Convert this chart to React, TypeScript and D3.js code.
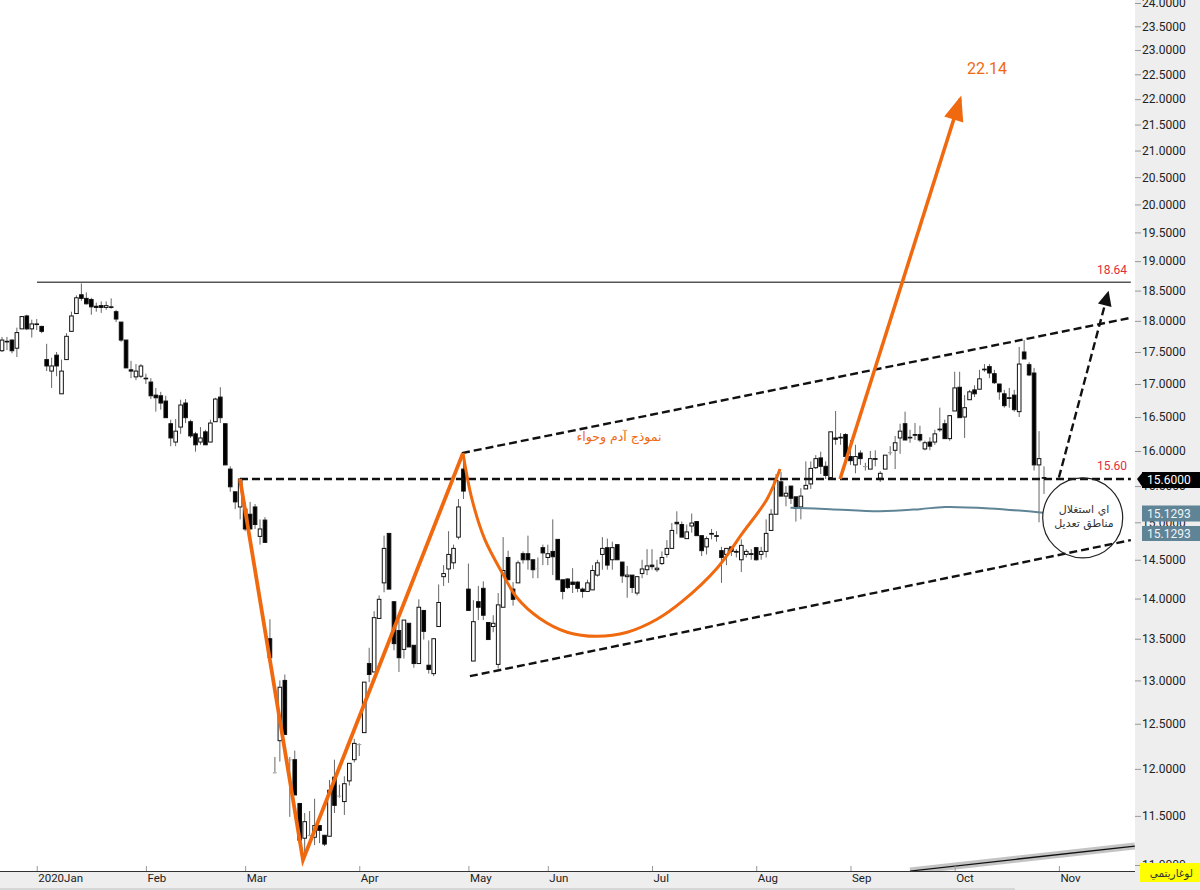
import * as d3 from "d3";
import { useEffect, useRef } from "react";

type Bar = [number, number, number, number]; // open, high, low, close
type Pt = [number, number]; // bar index, price

const dec19: Bar[] = [
  [17.52,17.74,17.50,17.69],[17.67,17.74,17.53,17.66],[17.69,17.70,17.48,17.52],[17.56,17.89,17.42,17.81],
  [17.87,18.07,17.87,18.07],[18.08,18.10,17.85,17.87],[17.87,18.02,17.73,17.95],
];
const jan: Bar[] = [
  [17.95,18.03,17.85,17.94],[17.91,17.92,17.80,17.83],[17.38,17.63,17.20,17.28],[17.20,17.41,16.94,17.28],
  [17.45,17.50,17.12,17.28],[16.85,17.38,16.85,17.20],[17.38,17.80,17.38,17.75],[17.83,18.15,17.83,18.08],
  [18.12,18.42,18.12,18.38],[18.43,18.62,18.33,18.37],[18.37,18.47,18.27,18.28],[18.35,18.38,18.10,18.23],
  [18.24,18.30,18.15,18.22],[18.25,18.32,18.13,18.22],[18.22,18.32,18.18,18.25],[18.23,18.37,18.20,18.22],
  [18.15,18.18,17.98,18.03],[17.98,17.98,17.66,17.69],[17.69,17.69,17.25,17.25],[17.22,17.36,17.09,17.20],
  [17.11,17.31,17.06,17.20],[17.12,17.31,17.09,17.28],
];
const feb: Bar[] = [
  [17.09,17.16,17.00,17.08],[17.03,17.09,16.77,16.82],[16.83,16.94,16.58,16.79],[16.82,16.88,16.61,16.71],
  [16.74,16.82,16.49,16.49],[16.40,16.46,16.07,16.19],[16.13,16.47,16.07,16.29],[16.35,16.76,16.25,16.68],
  [16.71,16.77,16.41,16.49],[16.43,16.46,16.19,16.22],[16.25,16.28,15.99,16.09],[16.13,16.35,16.09,16.19],
  [16.28,16.31,16.09,16.09],[16.13,16.46,16.13,16.41],[16.43,16.79,16.43,16.77],[16.80,16.95,16.41,16.49],
  [16.40,16.40,15.80,15.80],[15.74,15.78,15.42,15.49],[15.42,15.42,15.18,15.28],[15.21,15.60,15.04,15.60],
];
const mar: Bar[] = [
  [15.18,15.28,14.88,14.91],[15.11,15.28,14.91,14.91],[15.21,15.25,14.91,14.97],[14.81,15.04,14.70,14.91],
  [15.03,15.07,14.73,14.73],[13.50,13.74,13.27,13.27],[11.96,12.13,11.96,11.96],[12.31,13.00,12.08,12.92],
  [13.00,13.07,12.38,12.38],[12.10,12.13,11.49,12.10],[12.10,12.20,11.72,11.72],[11.63,11.63,11.25,11.25],
  [11.27,11.53,11.10,11.44],[11.30,11.55,11.29,11.30],[11.28,11.68,11.20,11.40],[11.40,11.40,11.22,11.35],
  [11.30,11.30,11.19,11.21],[11.29,11.88,11.29,11.77],[11.91,12.10,11.53,11.61],[11.71,11.83,11.69,11.71],
  [11.65,11.92,11.51,11.84],[11.87,12.06,11.82,12.06],[12.10,12.33,12.07,12.28],
];
const apr: Bar[] = [
  [12.27,12.28,12.14,12.27],[12.40,12.98,12.40,12.98],[13.20,13.39,12.98,13.07],[13.10,13.84,13.10,13.76],
  [13.75,14.04,13.75,13.99],[14.20,14.82,14.08,14.65],[14.85,14.85,14.12,14.12],[13.96,13.96,13.36,13.44],
  [13.60,13.73,13.10,13.27],[13.37,13.73,13.26,13.73],[13.69,13.69,13.40,13.40],[13.42,13.42,13.15,13.20],
  [13.20,13.99,13.20,13.89],[13.85,13.85,13.49,13.59],[13.18,13.48,13.08,13.13],[13.08,13.50,13.05,13.50],
  [13.65,14.18,13.65,13.95],[14.28,14.43,14.16,14.32],[14.38,14.88,14.20,14.57],[14.46,14.70,14.38,14.65],
  [14.80,15.32,14.77,15.21],[15.74,15.97,15.32,15.43],
];
const may: Bar[] = [
  [14.12,14.45,13.85,13.85],[13.23,13.98,13.23,13.71],[13.96,14.16,13.73,13.89],[14.13,14.22,13.73,13.79],
  [13.70,13.70,13.49,13.49],[13.65,13.79,13.58,13.69],[13.19,14.07,13.14,13.92],[13.89,14.80,13.89,14.36],
  [14.53,14.62,14.24,14.24],[14.12,14.21,13.91,13.99],[14.20,14.49,14.20,14.46],[14.58,14.61,14.45,14.50],
  [14.58,14.82,14.37,14.50],[14.50,14.50,14.26,14.37],[14.39,14.53,14.26,14.39],[14.66,14.70,14.43,14.59],
];
const jun: Bar[] = [
  [14.53,14.70,14.43,14.58],[14.61,15.04,14.30,14.54],[14.77,14.77,14.24,14.24],[14.24,14.24,13.99,14.09],
  [14.25,14.26,14.12,14.14],[14.21,14.39,14.07,14.18],[14.21,14.22,14.08,14.13],[14.12,14.14,14.01,14.09],
  [14.09,14.24,14.09,14.20],[14.11,14.43,14.11,14.36],[14.30,14.50,14.28,14.46],[14.57,14.80,14.37,14.65],
  [14.66,14.78,14.37,14.43],[14.50,14.74,14.37,14.66],[14.70,14.70,14.50,14.50],[14.47,14.47,14.20,14.29],
  [14.28,14.42,14.01,14.30],[14.30,14.30,14.07,14.14],[14.07,14.28,14.04,14.28],[14.32,14.50,14.26,14.38],
  [14.37,14.64,14.30,14.42],
];
const jul: Bar[] = [
  [14.43,14.64,14.37,14.41],[14.37,14.50,14.34,14.39],[14.45,14.61,14.43,14.53],[14.57,14.76,14.53,14.65],
  [14.65,14.99,14.65,14.89],[15.00,15.15,14.84,14.98],[14.97,15.01,14.80,14.80],[14.78,14.97,14.78,14.87],
  [14.95,15.12,14.86,14.99],[15.01,15.01,14.82,14.82],[14.82,14.82,14.55,14.62],[14.67,14.81,14.57,14.78],
  [14.85,14.91,14.77,14.84],[14.82,14.88,14.74,14.81],[14.62,14.67,14.20,14.53],[14.57,14.65,14.43,14.65],
  [14.67,14.67,14.55,14.61],[14.61,14.64,14.53,14.60],[14.50,14.77,14.34,14.69],[14.57,14.64,14.53,14.61],
  [14.58,14.64,14.50,14.57],
];
const aug: Bar[] = [
  [14.66,14.67,14.49,14.50],[14.57,14.67,14.50,14.61],[14.61,15.04,14.53,14.85],[14.89,15.18,14.89,15.11],
  [15.11,15.67,15.11,15.58],[15.56,15.70,15.36,15.36],[15.36,15.50,15.22,15.40],[15.50,15.50,15.25,15.33],
  [15.35,15.35,15.01,15.19],[15.21,15.47,15.04,15.36],[15.46,15.85,15.46,15.51],[15.53,15.85,15.46,15.75],
  [15.76,15.94,15.74,15.89],[15.90,15.99,15.67,15.78],[15.78,15.85,15.60,15.65],[15.62,16.28,15.62,16.28],
  [16.19,16.59,16.09,16.17],[16.20,16.26,16.09,16.19],[16.24,16.26,15.87,15.92],
];
const sep: Bar[] = [
  [15.92,16.16,15.80,15.86],[15.80,16.09,15.68,15.92],[15.97,16.01,15.80,15.89],[15.78,15.83,15.72,15.78],
  [15.74,16.00,15.74,15.89],[15.89,16.01,15.78,15.88],[15.61,15.71,15.56,15.68],[15.74,15.94,15.74,15.94],
  [15.98,16.07,15.94,15.98],[16.01,16.22,15.74,16.12],[16.19,16.40,15.96,16.29],[16.40,16.58,16.16,16.16],
  [16.20,16.31,16.12,16.19],[16.24,16.41,16.16,16.23],[16.24,16.37,16.13,16.16],[16.03,16.15,16.01,16.12],
  [16.13,16.20,16.01,16.07],[16.13,16.31,16.09,16.25],[16.32,16.64,16.28,16.31],[16.40,16.46,16.18,16.18],
  [16.18,16.53,16.15,16.52],
];
const oct: Bar[] = [
  [16.59,17.19,16.59,16.94],[16.95,17.19,16.49,16.49],[16.50,16.83,16.19,16.64],[16.76,16.91,16.76,16.88],
  [16.91,16.98,16.80,16.85],[16.92,17.22,16.92,17.08],[17.23,17.31,17.19,17.22],[17.27,17.31,17.09,17.17],
  [17.16,17.22,17.00,17.02],[17.00,17.00,16.76,16.88],[16.85,16.91,16.64,16.67],[16.79,16.94,16.64,16.78],
  [16.83,16.91,16.58,16.61],[16.58,17.58,16.50,17.31],[17.50,17.69,17.39,17.39],[17.30,17.34,17.12,17.14],
  [17.17,17.25,15.72,15.80],[15.80,16.29,15.00,15.89],[15.62,15.78,15.39,15.61],
];
const bars: Bar[] = [...dec19, ...jan, ...feb, ...mar, ...apr, ...may, ...jun, ...jul, ...aug, ...sep, ...oct];

const monthLabels = ["2020Jan", "Feb", "Mar", "Apr", "May", "Jun", "Jul", "Aug", "Sep", "Oct", "Nov"];
const monthBars = [7, 29, 49, 72, 94, 110, 131, 152, 171, 192, 213];
const priceTicks = d3.range(0, 27).map((k) => 11 + k * 0.5);

// drawings on top of the candles
const legDown: Pt[] = [[47.96, 15.60], [60.66, 11.05], [92.9, 15.97]];
const cup: Pt[] = [
  [92.9, 15.97], [94.7, 15.32], [97.3, 14.77], [100.8, 14.33], [103.8, 14.01], [108.4, 13.75], [113.9, 13.58],
  [119.9, 13.53], [126, 13.58], [132, 13.74], [137.2, 13.97], [144.1, 14.39], [149.3, 14.86], [154.2, 15.32], [156.8, 15.74],
];
const targetArrow: Pt[] = [[168.9, 15.60], [193.1, 22.0]];
const upperChannel: Pt[] = [[92.7, 15.97], [227.5, 18.05]];
const lowerChannel: Pt[] = [[94.3, 13.05], [227.5, 14.76]];
const neckline: Pt[] = [[47.96, 15.60], [227.5, 15.60]];
const resistance: Pt[] = [[7.05, 18.64], [227.5, 18.64]];
const dashArrow: Pt[] = [[213, 15.62], [222.9, 18.46]];
const maLine: Pt[] = [[158.9, 15.20], [166.9, 15.18], [176.9, 15.15], [185, 15.18], [190, 15.21], [199.1, 15.19], [209.8, 15.13]];
const longTrend: Pt[] = [[183, 10.94], [228.3, 11.19]];
const circleAt: Pt = [217.8, 15.06];

const W = 1200;
const H = 890;
const plotR = 1135;
const plotB = 871;
const ORANGE = "#f0690f";
const TEAL = "#5f8496";
const AR = "'DejaVu Sans', sans-serif";
const UI = "Roboto, 'Liberation Sans', sans-serif";

export default function App() {
  const ref = useRef<SVGSVGElement | null>(null);
  useEffect(() => {
    if (!ref.current) return;
    const svg = d3.select(ref.current);
    svg.selectAll("*").remove();

    const x = d3.scaleLinear().domain([0, bars.length - 1]).range([2, 1044]);
    const y = d3.scaleLog().domain([11, 24]).range([865, 3]);
    const line = d3.line<Pt>().x((d) => x(d[0])).y((d) => y(d[1]));
    const smooth = d3.line<Pt>().x((d) => x(d[0])).y((d) => y(d[1])).curve(d3.curveCatmullRom);

    svg.append("rect").attr("width", W).attr("height", H).attr("fill", "#fff");
    svg.append("defs").append("clipPath").attr("id", "plot").append("rect").attr("width", plotR).attr("height", plotB);
    const plot = svg.append("g").attr("clip-path", "url(#plot)");

    const candle = plot.selectAll("g.c").data(bars).join("g").attr("class", "c");
    candle
      .append("line")
      .attr("x1", (_, i) => x(i))
      .attr("x2", (_, i) => x(i))
      .attr("y1", (d) => y(d[1]))
      .attr("y2", (d) => y(d[2]))
      .attr("stroke", "#666")
      .attr("stroke-width", 1);
    // open == close is only a faint grey tick in the reference
    candle
      .append("rect")
      .attr("x", (_, i) => x(i) - 1.8)
      .attr("width", 3.6)
      .attr("y", (d) => y(Math.max(d[0], d[3])))
      .attr("height", (d) => Math.max(0.6, Math.abs(y(d[0]) - y(d[3]))))
      .attr("fill", (d) => (d[3] >= d[0] ? "#fff" : "#000"))
      .attr("stroke", (d) => (d[0] === d[3] ? "#888" : "#111"))
      .attr("stroke-width", (d) => (d[0] === d[3] ? 0.4 : 1));

    // long term trend line at the bottom right
    plot.append("path").attr("d", line(longTrend)).attr("stroke", "#c4c4c4").attr("stroke-width", 7).attr("fill", "none");
    plot.append("path").attr("d", line(longTrend)).attr("stroke", "#111").attr("stroke-width", 1.3).attr("fill", "none");

    plot.append("path").attr("d", line(resistance)).attr("stroke", "#555").attr("stroke-width", 1.6).attr("fill", "none");
    plot.append("path").attr("d", smooth(maLine)).attr("stroke", TEAL).attr("stroke-width", 2).attr("fill", "none");

    [upperChannel, lowerChannel, neckline].forEach((seg) => {
      plot.append("path").attr("d", line(seg)).attr("stroke", "#111").attr("stroke-width", 2.4).attr("stroke-dasharray", "8 4").attr("fill", "none");
    });

    // target arrows, head built along the shaft
    const arrowHead = (seg: Pt[], len: number, half: number) => {
      const ax = x(seg[0][0]), ay = y(seg[0][1]), bx = x(seg[1][0]), by = y(seg[1][1]);
      const a = Math.atan2(by - ay, bx - ax);
      const ux = Math.cos(a), uy = Math.sin(a);
      const tip = [bx + ux * len * 0.15, by + uy * len * 0.15];
      const base = [tip[0] - ux * len, tip[1] - uy * len];
      return `M${tip[0]},${tip[1]}L${base[0] - uy * half},${base[1] + ux * half}L${base[0] + uy * half},${base[1] - ux * half}Z`;
    };
    plot.append("path").attr("d", line(dashArrow)).attr("stroke", "#111").attr("stroke-width", 2.4).attr("stroke-dasharray", "8 4").attr("fill", "none");
    plot.append("path").attr("d", arrowHead(dashArrow, 15, 7)).attr("fill", "#111");

    plot.append("path").attr("d", line(legDown)).attr("stroke", ORANGE).attr("stroke-width", 3.8).attr("stroke-linejoin", "miter").attr("fill", "none");
    plot.append("path").attr("d", smooth(cup)).attr("stroke", ORANGE).attr("stroke-width", 3).attr("fill", "none");
    plot.append("path").attr("d", line(targetArrow)).attr("stroke", ORANGE).attr("stroke-width", 3.5).attr("fill", "none");
    plot.append("path").attr("d", arrowHead(targetArrow, 25, 10)).attr("fill", ORANGE);

    plot.append("circle").attr("cx", x(circleAt[0])).attr("cy", y(circleAt[1])).attr("r", 40).attr("fill", "none").attr("stroke", "#222").attr("stroke-width", 1.2);

    const note = (t: string, px: number, price: number, size: number, fill: string, family = AR) =>
      plot.append("text").attr("x", px).attr("y", y(price)).attr("text-anchor", "middle").attr("font-family", family).attr("font-size", size).attr("fill", fill).text(t);
    note("نموذج آدم وحواء", 619, 16.14, 12.5, ORANGE);
    note("22.14", 987, 22.51, 16, ORANGE, UI);
    note("18.64", 1112, 18.78, 12, "#e0303c", UI);
    note("15.60", 1112, 15.73, 12, "#e0303c", UI);
    note("اي استغلال", 1084, 15.13, 11, "#333");
    note("مناطق تعديل", 1084, 14.93, 11, "#333");

    // price axis panel
    svg.append("rect").attr("x", plotR).attr("width", W - plotR).attr("height", H).attr("fill", "#eeeeee");
    svg.append("rect").attr("y", plotB).attr("width", W).attr("height", H - plotB).attr("fill", "#eeeeee");
    svg.append("rect").attr("y", 888).attr("width", 1015).attr("height", 2).attr("fill", "#d6d6d6");

    const yAxis = svg.append("g").attr("transform", `translate(${plotR},0)`)
      .call(d3.axisRight(y).tickValues(priceTicks).tickFormat((d) => (+d).toFixed(4)).tickSize(6).tickPadding(1));
    yAxis.select(".domain").remove();
    yAxis.selectAll("line").attr("stroke", "#999");
    yAxis.selectAll("text").attr("font-family", UI).attr("font-size", 12).attr("fill", "#222");

    const xAxis = svg.append("g").attr("transform", `translate(0,${plotB})`)
      .call(d3.axisBottom(x).tickValues(monthBars).tickFormat((_, i) => monthLabels[i]).tickSizeInner(-5).tickSizeOuter(0).tickPadding(6));
    xAxis.select(".domain").attr("stroke", "#333").attr("d", `M0,0.5H${plotR}`);
    xAxis.selectAll("line").attr("stroke", "#999");
    xAxis.selectAll("text").attr("font-family", UI).attr("font-size", 11.5).attr("fill", "#222")
      .attr("text-anchor", "start").attr("x", 1).attr("y", 3).attr("dy", "0.71em");

    // last value tags
    const tag = (value: string, top: number, h: number, fill: string, color: string) => {
      const g = svg.append("g");
      g.append("rect").attr("x", 1142).attr("y", top).attr("width", W - 1142).attr("height", h).attr("fill", fill);
      g.append("text").attr("x", 1147).attr("y", top + h / 2 + 4).attr("font-family", UI).attr("font-size", 12).attr("fill", color).text(value);
    };
    svg.append("path").attr("d", `M1137,${y(15.6)}L1143,472H1200V488H1143Z`).attr("fill", "#000");
    tag("15.6000", 472, 16, "#000", "#fff");
    tag("15.1293", 505.5, 16, TEAL, "#eef3f6");
    tag("15.1293", 526, 15, TEAL, "#eef3f6");

    svg.append("rect").attr("x", 1140).attr("y", 863).attr("width", 60).attr("height", 19).attr("fill", "#ffff00");
    svg.append("text").attr("x", 1193).attr("y", 877).attr("text-anchor", "end").attr("font-family", AR).attr("font-size", 10.5).attr("fill", "#333").text("لوغاريتمي");
  }, []);
  return (
    <div style={{ position: "absolute", left: 0, top: 0, width: W, height: H }}>
      <svg ref={ref} width={W} height={H} viewBox={`0 0 ${W} ${H}`} style={{ display: "block" }} />
    </div>
  );
}
